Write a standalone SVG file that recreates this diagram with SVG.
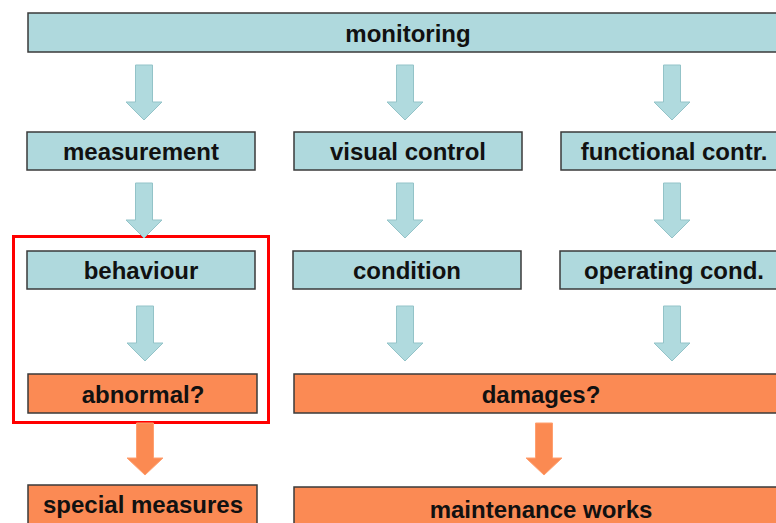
<svg xmlns="http://www.w3.org/2000/svg" xmlns:xlink="http://www.w3.org/1999/xlink" width="776" height="523" viewBox="0 0 776 523">
  <style>
    .box { stroke: #3a3a3a; stroke-width: 1.5; }
    .teal { fill: #AFD9DD; }
    .orange { fill: #FB8A54; }
    .label { font-family: "Liberation Sans", Arial, sans-serif; font-weight: bold; font-size: 24px; fill: #111; text-anchor: middle; }
    .arrow-teal { fill: #B0DADE; stroke: #93C3C8; stroke-width: 1; }
    .arrow-orange { fill: #FB8A52; stroke: #FFA070; stroke-width: 1; }
    .frame { fill: none; stroke: #FF0000; stroke-width: 3; }
  </style>
  <defs>
    <!-- block arrow, centred on x=0, top at y=0 -->
    <path id="arrowTeal" d="M -8.5 0 H 8.5 V 37 H 18 L 0 55 L -18 37 H -8.5 Z"/>
    <path id="arrowOrange" d="M -8.5 0 H 8.5 V 35 H 18 L 0 52 L -18 35 H -8.5 Z"/>
  </defs>

  <!-- top node -->
  <g id="monitoring">
    <rect class="box teal" x="28" y="13" width="760" height="39"/>
    <text class="label" x="408" y="42">monitoring</text>
  </g>

  <!-- second row -->
  <g id="measurement">
    <rect class="box teal" x="27" y="132" width="228" height="38"/>
    <text class="label" x="141" y="160">measurement</text>
  </g>
  <g id="visual-control">
    <rect class="box teal" x="294" y="132" width="228" height="38"/>
    <text class="label" x="408" y="160">visual control</text>
  </g>
  <g id="functional-control">
    <rect class="box teal" x="561" y="132" width="226" height="38"/>
    <text class="label" x="674" y="160">functional contr.</text>
  </g>

  <!-- third row -->
  <g id="behaviour">
    <rect class="box teal" x="27" y="251" width="228" height="38"/>
    <text class="label" x="141" y="279">behaviour</text>
  </g>
  <g id="condition">
    <rect class="box teal" x="293" y="251" width="228" height="38"/>
    <text class="label" x="407" y="279">condition</text>
  </g>
  <g id="operating-condition">
    <rect class="box teal" x="560" y="251" width="228" height="38"/>
    <text class="label" x="674" y="279">operating cond.</text>
  </g>

  <!-- decision row -->
  <g id="abnormal">
    <rect class="box orange" x="28" y="374" width="229" height="39"/>
    <text class="label" x="143" y="403">abnormal?</text>
  </g>
  <g id="damages">
    <rect class="box orange" x="294" y="374" width="494" height="39"/>
    <text class="label" x="541" y="403">damages?</text>
  </g>

  <!-- outcome row -->
  <g id="special-measures">
    <rect class="box orange" x="28" y="485" width="229" height="45"/>
    <text class="label" x="143" y="513">special measures</text>
  </g>
  <g id="maintenance-works">
    <rect class="box orange" x="294" y="487" width="494" height="45"/>
    <text class="label" x="541" y="518">maintenance works</text>
  </g>

  <!-- highlight around the measurement branch -->
  <g id="highlight">
    <rect class="frame" x="13.5" y="236.5" width="255" height="186"/>
  </g>

  <!-- connectors -->
  <g id="connectors">
    <use xlink:href="#arrowTeal" class="arrow-teal" x="144" y="65"/>
    <use xlink:href="#arrowTeal" class="arrow-teal" x="405" y="65"/>
    <use xlink:href="#arrowTeal" class="arrow-teal" x="672" y="65"/>

    <use xlink:href="#arrowTeal" class="arrow-teal" x="144" y="183"/>
    <use xlink:href="#arrowTeal" class="arrow-teal" x="405" y="183"/>
    <use xlink:href="#arrowTeal" class="arrow-teal" x="672" y="183"/>

    <use xlink:href="#arrowTeal" class="arrow-teal" x="145" y="306"/>
    <use xlink:href="#arrowTeal" class="arrow-teal" x="405" y="306"/>
    <use xlink:href="#arrowTeal" class="arrow-teal" x="672" y="306"/>

    <use xlink:href="#arrowOrange" class="arrow-orange" x="145" y="423"/>
    <use xlink:href="#arrowOrange" class="arrow-orange" x="544" y="423"/>
  </g>
</svg>
